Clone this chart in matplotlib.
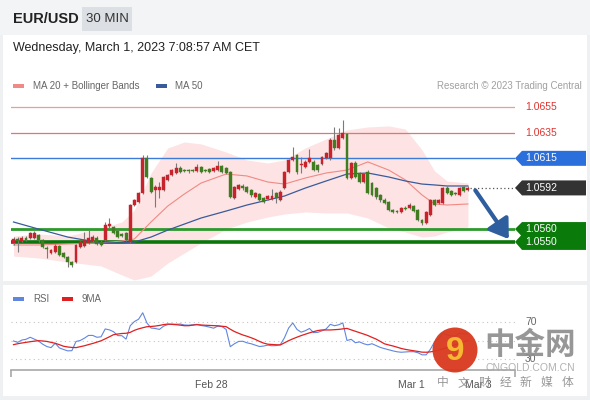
"""
EUR/USD 30 MIN snapshot: candles with MA20 + Bollinger Bands, MA50,
key levels and an RSI / 9MA panel underneath.
"""

import numpy as np
import matplotlib.pyplot as plt
from matplotlib.patches import Rectangle, Polygon, Circle

plt.rcParams['font.family'] = ['Liberation Sans', 'Noto Sans CJK SC', 'DejaVu Sans']


# ── Data ──────────────────────────────────────────────────────────────────────
opens = [
    1.05492, 1.05523, 1.05507, 1.05530, 1.05530, 1.05530, 1.05554, 1.05515, 1.05453, 1.05414,
    1.05421, 1.05468, 1.05414, 1.05383, 1.05344, 1.05344, 1.05460, 1.05468, 1.05492, 1.05507,
    1.05530, 1.05499, 1.05515, 1.05624, 1.05616, 1.05585, 1.05562, 1.05569, 1.05499, 1.05787,
    1.05810, 1.05881, 1.06153, 1.05997, 1.05904, 1.05904, 1.05904, 1.05982, 1.06021, 1.06036,
    1.06075, 1.06059, 1.06059, 1.06059, 1.06052, 1.06083, 1.06059, 1.06067, 1.06052, 1.06059,
    1.06091, 1.06075, 1.06044, 1.05842, 1.05912, 1.05935, 1.05927, 1.05904, 1.05849, 1.05873,
    1.05842, 1.05834, 1.05834, 1.05881, 1.05826, 1.05919, 1.06044, 1.06137, 1.06176, 1.06098,
    1.06083, 1.06122, 1.06122, 1.06098, 1.06106, 1.06153, 1.06153, 1.06293, 1.06231, 1.06308,
    1.06340, 1.05997, 1.06114, 1.06036, 1.05966, 1.06044, 1.05958, 1.05919, 1.05865, 1.05826,
    1.05810, 1.05748, 1.05740, 1.05733, 1.05764, 1.05764, 1.05779, 1.05748, 1.05670, 1.05647,
    1.05709, 1.05826, 1.05803, 1.05803, 1.05919, 1.05896, 1.05881, 1.05865, 1.05927, 1.05904,
]
highs = [
    1.05538, 1.05538, 1.05546, 1.05546, 1.05577, 1.05585, 1.05562, 1.05523, 1.05468, 1.05445,
    1.05484, 1.05476, 1.05421, 1.05390, 1.05351, 1.05484, 1.05507, 1.05577, 1.05593, 1.05554,
    1.05546, 1.05515, 1.05655, 1.05686, 1.05624, 1.05593, 1.05569, 1.05577, 1.05795, 1.05834,
    1.05888, 1.06176, 1.06176, 1.06005, 1.05943, 1.05966, 1.06013, 1.06028, 1.06067, 1.06114,
    1.06091, 1.06067, 1.06067, 1.06067, 1.06106, 1.06091, 1.06067, 1.06075, 1.06083, 1.06129,
    1.06098, 1.06083, 1.06052, 1.05935, 1.05950, 1.05950, 1.05935, 1.05912, 1.05888, 1.05881,
    1.05849, 1.05865, 1.05912, 1.05888, 1.05904, 1.06052, 1.06145, 1.06238, 1.06184, 1.06161,
    1.06137, 1.06223, 1.06137, 1.06106, 1.06169, 1.06199, 1.06308, 1.06394, 1.06386, 1.06448,
    1.06347, 1.06122, 1.06129, 1.06044, 1.06028, 1.06059, 1.05966, 1.05927, 1.05873, 1.05842,
    1.05818, 1.05756, 1.05748, 1.05772, 1.05779, 1.05803, 1.05787, 1.05756, 1.05678, 1.05740,
    1.05834, 1.05834, 1.05834, 1.05927, 1.05935, 1.05904, 1.05888, 1.05927, 1.05935, 1.05935,
]
lows = [
    1.05476, 1.05421, 1.05499, 1.05507, 1.05523, 1.05523, 1.05499, 1.05453, 1.05375, 1.05406,
    1.05414, 1.05390, 1.05375, 1.05305, 1.05305, 1.05336, 1.05453, 1.05460, 1.05484, 1.05499,
    1.05476, 1.05468, 1.05507, 1.05608, 1.05562, 1.05530, 1.05538, 1.05507, 1.05492, 1.05779,
    1.05803, 1.05873, 1.05997, 1.05881, 1.05772, 1.05842, 1.05896, 1.05974, 1.06013, 1.06028,
    1.06036, 1.06044, 1.06036, 1.06044, 1.06044, 1.06036, 1.06044, 1.06036, 1.06044, 1.06052,
    1.06036, 1.06028, 1.05842, 1.05834, 1.05904, 1.05904, 1.05881, 1.05849, 1.05842, 1.05818,
    1.05803, 1.05826, 1.05826, 1.05803, 1.05818, 1.05912, 1.06036, 1.06129, 1.06028, 1.06036,
    1.06075, 1.06114, 1.06052, 1.06044, 1.06098, 1.06145, 1.06137, 1.06215, 1.06223, 1.06301,
    1.05989, 1.05989, 1.05997, 1.05958, 1.05958, 1.05873, 1.05857, 1.05834, 1.05810, 1.05795,
    1.05740, 1.05725, 1.05725, 1.05725, 1.05748, 1.05756, 1.05733, 1.05663, 1.05632, 1.05639,
    1.05702, 1.05779, 1.05795, 1.05795, 1.05873, 1.05857, 1.05865, 1.05857, 1.05888, 1.05896,
]
closes = [
    1.05523, 1.05507, 1.05530, 1.05515, 1.05569, 1.05569, 1.05515, 1.05460, 1.05445, 1.05437,
    1.05468, 1.05398, 1.05383, 1.05344, 1.05320, 1.05476, 1.05499, 1.05515, 1.05530, 1.05538,
    1.05484, 1.05476, 1.05632, 1.05639, 1.05569, 1.05538, 1.05546, 1.05515, 1.05787, 1.05826,
    1.05881, 1.06153, 1.06005, 1.05888, 1.05927, 1.05927, 1.06005, 1.06021, 1.06059, 1.06075,
    1.06044, 1.06052, 1.06052, 1.06052, 1.06083, 1.06044, 1.06052, 1.06044, 1.06075, 1.06091,
    1.06044, 1.06036, 1.05849, 1.05927, 1.05943, 1.05919, 1.05888, 1.05865, 1.05881, 1.05826,
    1.05810, 1.05857, 1.05857, 1.05842, 1.05888, 1.06044, 1.06137, 1.06161, 1.06044, 1.06106,
    1.06122, 1.06153, 1.06059, 1.06059, 1.06161, 1.06192, 1.06293, 1.06231, 1.06332, 1.06347,
    1.05997, 1.06114, 1.06005, 1.05966, 1.06028, 1.05881, 1.05865, 1.05849, 1.05826, 1.05803,
    1.05748, 1.05733, 1.05733, 1.05764, 1.05756, 1.05787, 1.05740, 1.05670, 1.05647, 1.05733,
    1.05826, 1.05787, 1.05826, 1.05919, 1.05881, 1.05865, 1.05873, 1.05919, 1.05896, 1.05919,
]

# indicator readings at a subset of candles
band_idx = [0, 6, 13, 21, 26, 29, 33, 37, 41, 45, 51, 56,
            61, 65, 70, 75, 80, 85, 90, 94, 98, 101, 104, 109]
bb_upper = [1.05546, 1.05562, 1.05546, 1.05608, 1.05655, 1.05748, 1.06036, 1.06231,
            1.06277, 1.06262, 1.06199, 1.06137, 1.06114, 1.06137, 1.06231, 1.06301,
            1.06371, 1.06394, 1.06402, 1.06378, 1.06215, 1.06052, 1.05974, 1.05958]
bb_lower = [1.05390, 1.05375, 1.05344, 1.05313, 1.05243, 1.05204, 1.05235, 1.05336,
            1.05414, 1.05492, 1.05600, 1.05655, 1.05694, 1.05717, 1.05733, 1.05725,
            1.05725, 1.05686, 1.05608, 1.05577, 1.05538, 1.05546, 1.05577, 1.05616]
ma20 = [1.05476, 1.05476, 1.05484, 1.05492, 1.05507, 1.05523, 1.05655, 1.05779,
        1.05873, 1.05958, 1.06028, 1.06013, 1.05966, 1.05950, 1.05997, 1.06036,
        1.06059, 1.06122, 1.06059, 1.05982, 1.05865, 1.05795, 1.05787, 1.05795]
ma50 = [1.05655, 1.05600, 1.05538, 1.05492, 1.05492, 1.05499, 1.05538, 1.05592,
        1.05639, 1.05686, 1.05740, 1.05787, 1.05826, 1.05857, 1.05919, 1.05974,
        1.06028, 1.06036, 1.06005, 1.05974, 1.05950, 1.05943, 1.05935, 1.05935]

rsi = [
    49.5, 48, 50.5, 51.3, 53.5, 51.5, 49.5, 46, 43.5, 42.3,
    47, 42, 40.3, 38.8, 39, 49, 50, 52.5, 55.5, 55.5,
    53.5, 54, 62.5, 61.5, 59.5, 55.3, 55.2, 51.5, 66, 70.5,
    73, 80, 69, 63.5, 63, 62, 65.5, 67.3, 67.6, 67.6,
    67.8, 66.8, 66.6, 67, 67.5, 66.2, 65.5, 64.5, 63.3, 65.6,
    65.1, 62, 43.3, 46.5, 49, 49.2, 47.5, 46.5, 45, 43.5,
    44, 45, 44.3, 44.5, 45.5, 53, 63.5, 69, 62, 59,
    60.6, 63, 58.5, 58.8, 60.5, 62.5, 67.5, 66, 67, 69,
    50, 51.3, 47.6, 48.5, 46.5, 45.3, 46.5, 44.5, 42.5, 41.2,
    40, 38.8, 37.8, 37.3, 37.6, 37.9, 37.9, 36.8, 34.5, 34.5,
    40.5, 48.5, 52, 58, 56, 55, 55, 58, 57.5, 57,
]
rsi_ma9 = [
    45.5, 46.5, 47.3, 48, 48.7, 49.3, 49.8, 49.5, 49, 48,
    47, 45.5, 43.8, 43, 42.5, 42.3, 43.3, 44.3, 45.6, 46.8,
    48.2, 49.7, 51.8, 54, 56.3, 57, 57.6, 57.8, 58.8, 61,
    62.6, 63.8, 64.9, 65.2, 65.6, 66.3, 67.2, 67.8, 67.5, 67.1,
    66.6, 66, 66, 66.6, 67.1, 66.8, 66.5, 66.3, 66.1, 65.9,
    65.4, 65, 62.2, 59.7, 57.8, 56, 54.6, 53, 51.2, 49,
    47.2, 46, 45.7, 45.4, 45.2, 47.5, 49.8, 51.8, 53.6, 55.3,
    56.8, 58.3, 59.6, 60.8, 61.4, 61.4, 61.4, 61.7, 62, 62.6,
    63.1, 61.5, 60, 58.5, 57, 55.4, 53.4, 51.5, 49, 46.4,
    45.2, 44.1, 42.8, 41.4, 40.4, 39.6, 38.9, 38.2, 37.4, 37.3,
    37.7, 38.5, 39.5, 41, 42.5, 44, 45.5, 47, 48.5, 50,
]

resistances = [1.0655, 1.0635]
pivot = 1.0615
supports = [1.0560, 1.0550]
last_price = 1.0592
rsi_levels = [70, 50, 30]
rsi_labels = [70, 30]
time_ticks = [47.5, 95.5, 111.5]
time_labels = ["Feb 28", "Mar 1", "Mar 3"]

# ── Colours ───────────────────────────────────────────────────────────────────
UP, DOWN = "#c8232c", "#3f7d20"
BAND, MA20_C, MA50_C = "#fde3e3", "#f08a84", "#3a5b9b"
RSI_C, RSI_MA_C = "#6186e0", "#e02020"

W, H = 590, 400
XLIM = (-0.6, 120.3)
YLIM = (1.05196, 1.06666)

fig = plt.figure(figsize=(W / 100, H / 100), dpi=100)
fig.patch.set_facecolor("#eef0f2")

# pixel-space helper layers (origin top-left)
bg = fig.add_axes([0, 0, 1, 1], zorder=0)
bg.set_xlim(0, W)
bg.set_ylim(H, 0)
bg.axis("off")

fg = fig.add_axes([0, 0, 1, 1], zorder=10)
fg.set_xlim(0, W)
fg.set_ylim(H, 0)
fg.axis("off")
fg.patch.set_alpha(0)

# ── Frame & header ────────────────────────────────────────────────────────────
bg.add_patch(Rectangle((0, 0), W, 35, color="#f3f4f6", lw=0))
bg.add_patch(Rectangle((3, 35), W - 6, 246, color="white", lw=0))
bg.add_patch(Rectangle((3, 285), W - 6, 111, color="white", lw=0))

bg.text(13, 19, "EUR/USD", fontsize=10.5, weight="bold", color="#222", va="center")
bg.add_patch(Rectangle((82, 7), 50, 24, color="#dcdfe3", lw=0))
bg.text(107, 19, "30 MIN", fontsize=9.5, color="#333", ha="center", va="center")
bg.text(13, 48, "Wednesday, March 1, 2023 7:08:57 AM CET",
        fontsize=9, color="#222", va="center")

bg.add_patch(Rectangle((13, 84), 11, 4, color=MA20_C, lw=0))
bg.text(33, 86, "MA 20 + Bollinger Bands", fontsize=7, color="#666", va="center")
bg.add_patch(Rectangle((156, 84), 11, 4, color=MA50_C, lw=0))
bg.text(175, 86, "MA 50", fontsize=7, color="#666", va="center")
bg.text(582, 86, "Research \u00a9 2023 Trading Central", fontsize=7,
        color="#a0a0a0", ha="right", va="center")

# ── Price panel ───────────────────────────────────────────────────────────────
ax = fig.add_axes([11 / W, 1 - 281 / H, 504 / W, 189 / H], zorder=2)
ax.set_xlim(*XLIM)
ax.set_ylim(*YLIM)
ax.axis("off")
ax.patch.set_alpha(0)

ax.fill_between(band_idx, bb_lower, bb_upper, color=BAND, lw=0, zorder=1)
ax.plot(band_idx, ma20, color=MA20_C, lw=0.8, zorder=2)
ax.plot(band_idx, ma50, color=MA50_C, lw=0.9, zorder=2)

ax.axhline(resistances[0], color="#f29a9a", lw=0.9, zorder=1.5)
ax.axhline(resistances[1], color="#e57373", lw=0.9, zorder=1.5)
ax.axhline(pivot, color="#3d7bd9", lw=1.0, zorder=1.5)
ax.axhline(supports[0], color="#2c9a2c", lw=2.0, zorder=1.5)
ax.axhline(supports[1], color="#0b760b", lw=2.6, zorder=1.5)

o, h, l, c = map(np.array, (opens, highs, lows, closes))
idx = np.arange(len(c))
colors = np.where(c >= o, UP, DOWN)
ax.vlines(idx, l, h, color="#7a7a7a", lw=0.8, zorder=3)
ax.bar(idx, np.maximum(np.abs(c - o), 0.00004), bottom=np.minimum(o, c),
       width=0.7, color=colors, edgecolor=colors, linewidth=0.3, zorder=4)

n = len(c)
ax.hlines(last_price, n - 0.5, XLIM[1], colors="#555", lw=0.9,
          linestyles=(0, (1, 2)), zorder=3)

ax.annotate("", xy=(n - 1 + 10.2, supports[1] + 0.00004), xytext=(n - 1 + 1.4, closes[-1]),
            arrowprops=dict(arrowstyle="-|>,head_width=0.5,head_length=0.75",
                            color="#2f5e9e", lw=3.0, mutation_scale=15),
            annotation_clip=False, zorder=6)


def py(p):
    """price -> pixel row (top-left origin)"""
    return H - ax.transData.transform((0, p))[1]


def tag(y, color):
    fg.add_patch(Polygon([(515, y), (522, y - 7.5), (586, y - 7.5),
                          (586, y + 7.5), (522, y + 7.5)], closed=True,
                         color=color, lw=0))


for lvl in resistances:
    fg.text(525, py(lvl), f"{lvl:.4f}", fontsize=7.5, color="#e0332f", va="center")

tag(py(pivot), "#2a6fdb")
fg.text(525, py(pivot), f"{pivot:.4f}", fontsize=7.5, color="white", va="center")
tag(py(last_price), "#333333")
fg.text(525, py(last_price), f"{last_price:.4f}", fontsize=7.5, color="white", va="center")

y1, y2 = py(supports[0]), py(supports[1])
fg.add_patch(Polygon([(522, y1 - 7), (586, y1 - 7), (586, y2 + 8), (522, y2 + 8),
                      (515, y2), (521, (y1 + y2) / 2), (515, y1)],
                     closed=True, color="#0a7a0a", lw=0))
for lvl in supports:
    fg.text(525, py(lvl), f"{lvl:.4f}", fontsize=7.5, color="white", va="center")

# ── RSI panel ─────────────────────────────────────────────────────────────────
rax = fig.add_axes([11 / W, 1 - 370 / H, 504 / W, 65 / H], zorder=2)
rax.set_xlim(*XLIM)
rax.set_ylim(18.1, 88.4)
rax.patch.set_alpha(0)
for s in ("top", "left", "right"):
    rax.spines[s].set_visible(False)
rax.spines["bottom"].set_color("#a8a8a8")
rax.spines["bottom"].set_linewidth(1.2)
rax.set_yticks([])

for lvl in rsi_levels:
    rax.axhline(lvl, color="#c4c4c4", lw=0.8, ls=(0, (1, 3)), zorder=1)
rax.plot(idx, rsi, color=RSI_C, lw=0.8, zorder=2)
rax.plot(idx, rsi_ma9, color=RSI_MA_C, lw=0.9, zorder=3)

rax.set_xticks(time_ticks, time_labels)
rax.set_xticks([XLIM[0] + 0.1, XLIM[1] - 0.1], minor=True)
rax.tick_params(axis="x", which="major", length=0, pad=7, labelsize=7.5, labelcolor="#555")
rax.tick_params(axis="x", which="minor", length=5, width=1.2, color="#a8a8a8")

# the "30" label sits under the watermark in the original, nudge it a little
for lvl in rsi_labels:
    rax.text(1.02, lvl, str(lvl), transform=rax.get_yaxis_transform(),
             fontsize=7.5, color="#666", va="center")

bg.add_patch(Rectangle((13, 297), 11, 4, color=RSI_C, lw=0))
bg.text(33, 299, "RSI", fontsize=7, color="#666", va="center")
bg.add_patch(Rectangle((62, 297), 11, 4, color=RSI_MA_C, lw=0))
bg.text(82, 299, "9MA", fontsize=7, color="#666", va="center")

# ── Watermark ─────────────────────────────────────────────────────────────────
fg.add_patch(Circle((455, 350), 22.5, color="#d8391e", lw=0, alpha=0.95))
fg.text(455, 351, "9", fontsize=24, weight="bold", color="#f7b733",
        ha="center", va="center")
fg.text(530, 346, "中金网", fontsize=22, weight="bold", color="#8c8c8c",
        ha="center", va="center", alpha=0.9)
fg.text(530, 368, "CNGOLD.COM.CN", fontsize=7.5, color="#a8a8a8",
        ha="center", va="center", alpha=0.9)
for k, ch in enumerate("中文财经新媒体"):
    fg.text(443 + k * 20.7, 383, ch, fontsize=8.5, color="#8c8c8c",
            ha="center", va="center", alpha=0.9)

fig.savefig("out.png", dpi=100, facecolor=fig.get_facecolor())
